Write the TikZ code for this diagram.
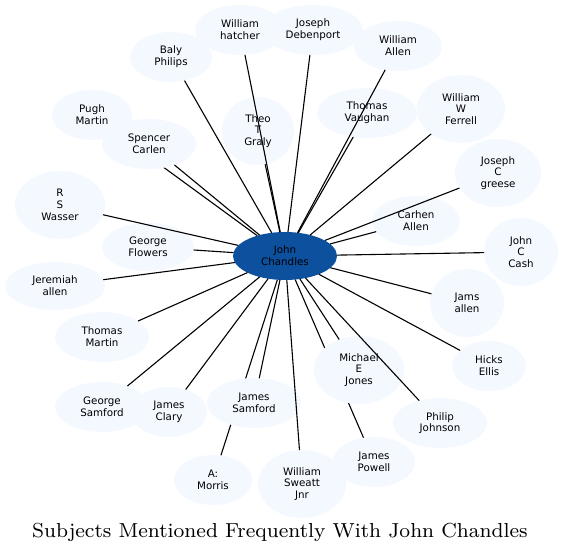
\documentclass[tikz,border=0pt]{standalone}
\usepackage{fontspec}
\newfontfamily\dejavu{DejaVu Sans}
\newfontfamily\titlefont[Extension=.otf]{lmroman8-regular}
\usetikzlibrary{shapes.geometric,backgrounds}
\definecolor{nodefill}{RGB}{244,248,255}
\definecolor{hubfill}{RGB}{12,80,158}
\begin{document}
\begin{tikzpicture}[x=1pt,y=-1pt,
  person/.style={ellipse, fill=nodefill, draw=none, inner sep=0pt, outer sep=0pt, align=center,
    font=\dejavu\fontsize{10.3}{11.7}\selectfont},
  hub/.style={person, fill=hubfill, text=black},
  link/.style={line width=1.1pt, black}]
\useasboundingbox (0,0) rectangle (563,553);
\newcommand\pnode[6][person]{\node[#1, minimum width=#5pt, minimum height=#6pt] (#2) at (#3) {#4};}
\pnode[hub]{john}{285,256}{John\\Chandles}{104}{48}
\pnode{hatcher}{240,30}{William\\hatcher}{90}{50}
\pnode{debenport}{313,30}{Joseph\\Debenport}{100}{50}
\pnode{wallen}{398,46}{William\\Allen}{88}{50}
\pnode{baly}{171,57}{Baly\\Philips}{82}{50}
\pnode{pugh}{92,115}{Pugh\\Martin}{80}{50}
\pnode{spencer}{149,144}{Spencer\\Carlen}{94}{50}
\pnode{theo}{258,131}{Theo\\T\\Graly}{72}{68}
\pnode{wasser}{60,205}{R\\S\\Wasser}{90}{68}
\pnode{flowers}{148,247}{George\\Flowers}{92}{48}
\pnode{jeremiah}{55,286}{Jeremiah\\allen}{100}{48}
\pnode{tmartin}{102,337}{Thomas\\Martin}{94}{50}
\pnode{gsamford}{102,407}{George\\Samford}{94}{50}
\pnode{clary}{169,412}{James\\Clary}{76}{50}
\pnode{jsamford}{254,403}{James\\Samford}{94}{50}
\pnode{morris}{213,480}{A:\\Morris}{78}{50}
\pnode{sweatt}{302,484}{William\\Sweatt\\Jnr}{88}{68}
\pnode{powell}{374,462}{James\\Powell}{82}{50}
\pnode{philip}{440,423}{Philip\\Johnson}{94}{50}
\pnode{michael}{359,370}{Michael\\E\\Jones}{90}{68}
\pnode{hicks}{489,366}{Hicks\\Ellis}{74}{50}
\pnode{jams}{467,303}{Jams\\allen}{74}{68}
\pnode{cash}{521,252}{John\\C\\Cash}{74}{68}
\pnode{carhen}{416,221}{Carhen\\Allen}{88}{50}
\pnode{greese}{498,173}{Joseph\\C\\greese}{86}{68}
\pnode{ferrell}{461,109}{William\\W\\Ferrell}{88}{68}
\pnode{vaughan}{367,113}{Thomas\\Vaughan}{100}{50}
\begin{pgfonlayer}{background}
\draw[link] (john) -- (pugh);
\draw[link] (john) -- (powell);
\draw[link] (john) -- (morris);
\end{pgfonlayer}
\foreach \t in {hatcher,debenport,wallen,baly,spencer,theo,wasser,flowers,jeremiah,tmartin,gsamford,clary,jsamford,sweatt,philip,michael,hicks,jams,cash,carhen,greese,ferrell,vaughan}
  {\draw[link] (john) -- (\t);}
\node[anchor=base, inner sep=0pt] (title) at (280,537) {\titlefont\fontsize{20.3}{24}\selectfont Subjects Mentioned Frequently With John Chandles};
\end{tikzpicture}
\end{document}
